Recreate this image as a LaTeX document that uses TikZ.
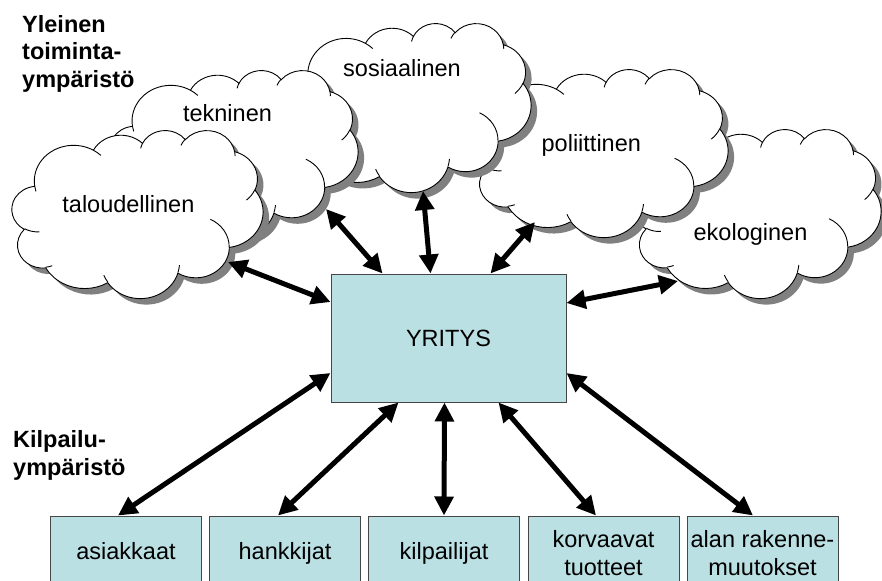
\documentclass[tikz,border=0pt]{standalone}
\usepackage{fontspec}
\setmainfont{Liberation Sans}
\usetikzlibrary{arrows.meta,calc}

\definecolor{boxfill}{RGB}{186,224,227}
\definecolor{boxline}{RGB}{70,70,70}
\definecolor{shadowgrey}{RGB}{128,128,128}

% Cloud outline in a 432 x 432 frame with y pointing down.  Every piece is
% an elliptical arc given by its radii, its visual start angle and its sweep;
% the visual angles are converted to the parametric ones used by TikZ arcs.
\makeatletter
\newcommand\cldarc[5]{%
  \pgfmathsetmacro\cld@s{atan2(#2*sin(#4),#3*cos(#4))}%
  \pgfmathsetmacro\cld@e{atan2(#2*sin(#4+#5),#3*cos(#4+#5))}%
  \pgfmathsetmacro\cld@d{mod(\cld@e-\cld@s+720,360)}%
  \expandafter\xdef\csname cld#1\endcsname{arc[start angle=\cld@s,delta angle=\cld@d,x radius=#2,y radius=#3]}%
}
\makeatother

% outer puffs
\cldarc{A}{67.53}{91.90}{-190.487}{123.781}
\cldarc{B}{53.33}{72.67}{-144.102}{89.945}
\cldarc{C}{43.65}{59.45}{-145.808}{99.723}
\cldarc{D}{48.57}{65.95}{-130.986}{117.242}
\cldarc{E}{53.33}{72.73}{-78.709}{109.027}
\cldarc{F}{67.75}{92.20}{-46.267}{130.269}
\cldarc{G}{57.85}{78.67}{0.625}{114.033}
\cldarc{H}{67.52}{92.15}{22.452}{115.173}
\cldarc{I}{77.20}{105.43}{66.243}{75.711}
\cldarc{J}{43.60}{59.18}{-274.942}{146.736}
\cldarc{K}{43.45}{59.45}{-246.829}{152.519}
% short strokes where the puffs meet
\cldarc{Pa}{43.45}{59.45}{86.742}{26.430}
\cldarc{Pb}{43.60}{59.18}{73.610}{11.447}
\cldarc{Pc}{67.52}{92.15}{137.624}{14.081}
\cldarc{Pd}{67.52}{92.15}{6.453}{15.998}
\cldarc{Pe}{57.85}{78.67}{-70.292}{70.917}
\cldarc{Pf}{53.33}{72.73}{30.318}{27.752}
\cldarc{Pg}{48.57}{65.95}{-13.744}{14.859}
\cldarc{Ph}{48.57}{65.95}{-149.181}{18.195}
\cldarc{Pi}{43.65}{59.45}{-163.494}{17.686}
\cldarc{Pj}{67.53}{91.90}{-66.707}{12.319}
\cldarc{Pk}{67.53}{91.90}{157.654}{11.858}

\def\cldpath{(39.00,143.70) \cldA \cldB \cldC \cldD \cldE \cldF \cldG \cldH \cldI \cldJ \cldK -- cycle}
\def\cldinner{(46.93,261.77) \cldPa (69.28,348.99) \cldPb (164.78,390.90) \cldPc
  (288.27,347.51) \cldPd (341.29,229.54) \cldPe (417.98,153.54) \cldPf
  (383.24,54.26) \cldPg (290.78,39.52) \cldPh (221.41,47.20) \cldPi
  (140.00,51.92) \cldPj (41.27,157.89) \cldPk}

% \drawcloud{left}{top}{width}{height}: cloud with its grey drop shadow
\newcommand\drawcloud[4]{%
  \pgfmathsetmacro\cldxu{#3/432}%
  \pgfmathsetmacro\cldyu{#4/432}%
  \begin{scope}[shift={(#1+6,#2+6)},x=\cldxu pt,y=-\cldyu pt]
    \fill[shadowgrey] \cldpath;
  \end{scope}
  \begin{scope}[shift={(#1,#2)},x=\cldxu pt,y=-\cldyu pt]
    \filldraw[fill=white,draw=black,line width=0.9pt] \cldpath;
    \draw[black,line width=0.9pt] \cldinner;
  \end{scope}}

\begin{document}
\begin{tikzpicture}[x=1pt,y=-1pt,
  lbl/.style={font=\fontsize{23.5}{28}\selectfont,inner sep=0pt},
  hdr/.style={font=\bfseries\fontsize{23.5}{27.5}\selectfont,inner sep=0pt,align=left},
  firm/.style={draw=boxline,line width=1pt,fill=boxfill,inner sep=0pt,
    minimum width=235pt,minimum height=128pt,font=\fontsize{23.5}{28}\selectfont},
  bx/.style={draw=boxline,line width=1pt,fill=boxfill,inner sep=0pt,
    minimum width=151pt,minimum height=74pt,font=\fontsize{23.5}{28.5}\selectfont,align=center},
  oneline/.style={text height=17pt,text depth=4pt},
  biarrow/.style={line width=5pt,{Triangle[length=19pt,width=18.5pt]}-{Triangle[length=19pt,width=18.5pt]}}]

\useasboundingbox (0,0) rectangle (882,580);
\clip (0,0) rectangle (882,580);

% environment clouds, back to front
\drawcloud{634}{129}{247}{169}
\drawcloud{474}{69}{254}{168}
\drawcloud{286}{23}{245}{169}
\drawcloud{110}{70}{248}{168}
\drawcloud{12}{130}{251}{168}

\node[lbl,anchor=base] (talL) at (128.4,212) {taloudellinen};
\node[lbl,anchor=base] (tekL) at (227.5,121.7) {tekninen};
\node[lbl,anchor=base] (sosL) at (402,76.7) {sosiaalinen};
\node[lbl,anchor=base] (polL) at (591.3,151.5) {poliittinen};
\node[lbl,anchor=base] (ekoL) at (750.5,240) {ekologinen};

% headings (base anchor sits on the last line)
\node[hdr,anchor=base west] (hdrA) at (22,87.3) {Yleinen\\toiminta-\\ympäristö};
\node[hdr,anchor=base west] (hdrB) at (13,475) {Kilpailu-\\ympäristö};

% the firm and its competitive environment
\node[firm] (yr) at (448.5,338) {YRITYS};
\node[bx,oneline] (asi) at (126,553) {asiakkaat};
\node[bx,oneline] (han) at (285,553) {hankkijat};
\node[bx,oneline] (kil) at (444,553) {kilpailijat};
\node[bx] (kor) at (603.5,553) {korvaavat\\tuotteet};
\node[bx] (ala) at (762.5,553) {alan rakenne-\\muutokset};

% arrow ends on the cloud edges
\coordinate (talA) at (228,262);
\coordinate (tekA) at (326,209);
\coordinate (sosA) at (423,191);
\coordinate (polA) at (535,222);
\coordinate (ekoA) at (678,281);

\draw[biarrow] (talA) -- ($(yr.west)+(0,-36)$);
\draw[biarrow] (tekA) -- ($(yr.north)+(-66,0)$);
\draw[biarrow] (sosA) -- ($(yr.north)+(-18,0)$);
\draw[biarrow] (polA) -- ($(yr.north)+(42,0)$);
\draw[biarrow] (ekoA) -- ($(yr.east)+(0,-35)$);

\draw[biarrow] ($(yr.west)+(0,35)$) -- ($(asi.north)+(-8,0)$);
\draw[biarrow] ($(yr.south)+(-50,0)$) -- ($(han.north)+(-7,0)$);
\draw[biarrow] ($(yr.south)+(-4,0)$) -- (kil.north);
\draw[biarrow] ($(yr.south)+(50,0)$) -- ($(kor.north)+(-7.5,0)$);
\draw[biarrow] ($(yr.east)+(0,35)$) -- ($(ala.north)+(-9.5,0)$);
\end{tikzpicture}
\end{document}
